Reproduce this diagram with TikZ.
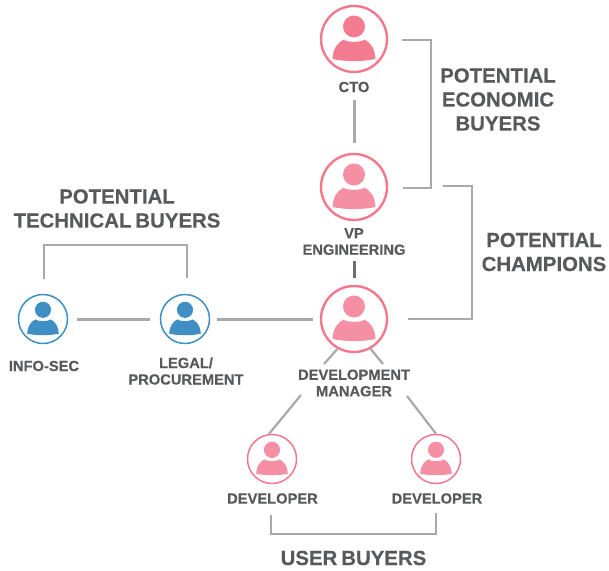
\documentclass[tikz,border=0pt]{standalone}
\usepackage{fontspec}
\setmainfont{Liberation Sans}[BoldFeatures={FakeBold=0.25},WordSpace=0.7]
\definecolor{txt}{HTML}{58595B}
\definecolor{linegray}{HTML}{A7A9AC}
\definecolor{ringpink}{HTML}{F4788C}
\definecolor{fillpink}{HTML}{F58FA3}
\definecolor{fillred}{HTML}{F47C90}
\definecolor{blueicon}{HTML}{3F8FC4}
\tikzset{
  x=1pt,y=-1pt,
  person/.pic={
    \fill[pic actions] (0,-12.5) circle (11);
    \fill[pic actions] (-21.5,20) .. controls (-21,9) and (-16,3.5) .. (-10.5,0.6)
      .. controls (-7,3.6) and (7,3.6) .. (10.5,0.6)
      .. controls (16,3.5) and (21,9) .. (21.5,20)
      .. controls (8,22.8) and (-8,22.8) .. (-21.5,20) -- cycle;
  },
  bigring/.style={circle,draw=ringpink,line width=2.4pt,inner sep=0pt,minimum size=66pt},
  smallring/.style={circle,draw=ringpink,line width=1.5pt,inner sep=0pt,minimum size=49pt},
  bluering/.style={circle,draw=blueicon,line width=1.5pt,inner sep=0pt,minimum size=49pt},
  link/.style={draw=linegray,line width=3pt},
  thinlink/.style={draw=linegray,line width=2.2pt},
  bracket/.style={draw=linegray,line width=2pt,line join=miter},
  role/.style={text=txt,font=\bfseries\fontsize{14.7}{16.5}\selectfont,align=center,inner sep=0pt},
  group/.style={text=txt,font=\bfseries\fontsize{20.4}{24}\selectfont,align=center,inner sep=0pt},
}
\begin{document}
\begin{tikzpicture}
\useasboundingbox (0,0) rectangle (609,570);
% person nodes
\node[bigring] (cto) at (354,39) {};
\node[bigring] (vp) at (354,187) {};
\node[bigring] (dm) at (354,319) {};
\node[smallring] (dev1) at (272,459) {};
\node[smallring] (dev2) at (436,459) {};
\node[bluering] (info) at (43,319) {};
\node[bluering] (legal) at (185,319) {};
% icons
\pic[fill=fillred] at (cto) {person};
\pic[fill=fillpink] at (vp) {person};
\pic[fill=fillpink] at (dm) {person};
\pic[fill=fillpink,scale=0.735] at (dev1) {person};
\pic[fill=fillpink,scale=0.735] at (dev2) {person};
\pic[fill=blueicon,scale=0.735] at (info) {person};
\pic[fill=blueicon,scale=0.735] at (legal) {person};
% role labels
\node[role] (ctol) at (354,87) {CTO};
\node[role] (vpl) at (354,241.5) {VP\\ENGINEERING};
\node[role] (dml) at (354,383) {DEVELOPMENT\\MANAGER};
\node[role] (dev1l) at (272.5,498.5) {DEVELOPER};
\node[role] (dev2l) at (437,498.5) {DEVELOPER};
\node[role] (infol) at (44,366) {INFO-SEC};
\node[role] (legall) at (186,371) {LEGAL/\\PROCUREMENT};
% group labels
\node[group] (econ) at (498,99.5) {POTENTIAL\\ECONOMIC\\BUYERS};
\node[group] (champ) at (544,252) {POTENTIAL\\CHAMPIONS};
\node[group] (tech) at (117,208.5) {POTENTIAL\\TECHNICAL BUYERS};
\node[group] (user) at (353.5,558) {USER BUYERS};
% connectors
\draw[link,shorten <=27pt,shorten >=10pt] (cto) -- (vp);
\draw[link,draw=txt!75!linegray,shorten <=40pt,shorten >=7pt] (vp) -- (dm);
\draw[link,shorten <=9pt,shorten >=10pt] (info) -- (legal);
\draw[link,shorten <=7pt,shorten >=7pt] (legal) -- (dm);
% lines broken by the manager's label
\coordinate (dmdl) at (324,364);
\coordinate (dmdr) at (383,364);
\coordinate (dlin) at (301,395);
\coordinate (drin) at (407,396);
\draw[thinlink] (dm.241) -- (dmdl);
\draw[thinlink] (dm.299) -- (dmdr);
\draw[thinlink] (dlin) -- (dev1.97);
\draw[thinlink] (drin) -- (dev2.north);
% brackets
\coordinate (b1a) at (402,40);
\coordinate (b1b) at (403,188);
\draw[bracket] (b1a) -| (431,188) -- (b1b);
\coordinate (b2a) at (443,185.5);
\coordinate (b2b) at (408,319);
\draw[bracket] (b2a) -| (472,319) -- (b2b);
\coordinate (b3a) at (44,279);
\coordinate (b3b) at (187,278);
\draw[bracket] (b3a) |- (187,245) -- (b3b);
\coordinate (b4a) at (271,515);
\coordinate (b4b) at (436,513);
\draw[bracket] (b4a) |- (436,533.5) -- (b4b);
\end{tikzpicture}
\end{document}
